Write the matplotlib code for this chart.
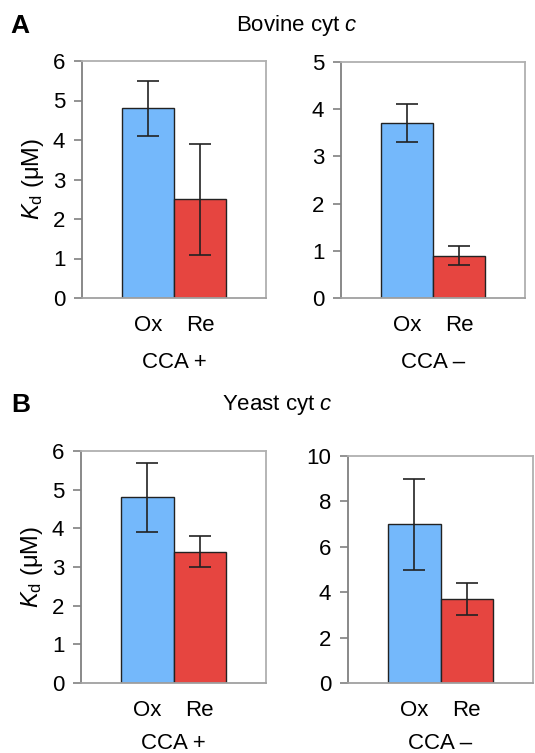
import matplotlib
matplotlib.use('Agg')
import matplotlib.pyplot as plt

plt.rcParams['font.family'] = ['Liberation Sans', 'DejaVu Sans']
plt.rcParams['mathtext.fontset'] = 'custom'
plt.rcParams['mathtext.rm'] = 'Liberation Sans'
plt.rcParams['mathtext.it'] = 'Liberation Sans:italic'

# data
conditions = ['Ox', 'Re']
bovine_cca_plus = [4.8, 2.5]
bovine_cca_plus_err = [0.7, 1.4]
bovine_cca_minus = [3.7, 0.9]
bovine_cca_minus_err = [0.4, 0.2]
yeast_cca_plus = [4.8, 3.4]
yeast_cca_plus_err = [0.9, 0.4]
yeast_cca_minus = [7.0, 3.7]
yeast_cca_minus_err = [2.0, 0.7]

colors = ['#74b8fb', '#e64540']
W, H = 535, 753
fig = plt.figure(figsize=(W / 100, H / 100), dpi=100)


def px_axes(x0, y0, x1, y1):
    # pixel box (top-left origin) -> figure fraction
    return fig.add_axes([x0 / W, 1 - y1 / H, (x1 - x0) / W, (y1 - y0) / H])


def bar_panel(ax, vals, errs, ymax, step, group, lpad=12):
    x = range(len(conditions))
    ax.bar(x, vals, width=1.0, color=colors, edgecolor='#222222', linewidth=1.0,
           yerr=errs, capsize=8, error_kw=dict(ecolor='#222222', elinewidth=1.2, capthick=1.2))
    ax.set_xlim(-1.27, 2.27)
    ax.set_ylim(0, ymax)
    ax.set_yticks(range(0, ymax + 1, step))
    ax.set_xticks(list(x))
    ax.set_xticklabels(conditions, fontsize=16)
    ax.set_xlabel(group, fontsize=16, labelpad=lpad)
    ax.tick_params(axis='x', length=0, pad=12)
    ax.tick_params(axis='y', labelsize=16, length=6, width=1.2, color='#808080', pad=6)
    ax.spines['left'].set_color('#808080')
    ax.spines['bottom'].set_color('#a0a0a0')
    ax.spines['top'].set_color('#b0b0b0')
    ax.spines['right'].set_color('#b0b0b0')
    for s in ax.spines.values():
        s.set_linewidth(1.3)


ax1 = px_axes(82, 61, 266, 298)
bar_panel(ax1, bovine_cca_plus, bovine_cca_plus_err, 6, 1, 'CCA +')
ax1.set_ylabel(r'$K_{\rm d}$ (μM)', fontsize=17, labelpad=5)

ax2 = px_axes(341, 62, 525, 298)
bar_panel(ax2, bovine_cca_minus, bovine_cca_minus_err, 5, 1, 'CCA –')

ax3 = px_axes(81, 451, 266, 683)
bar_panel(ax3, yeast_cca_plus, yeast_cca_plus_err, 6, 1, 'CCA +', lpad=9)
ax3.set_ylabel(r'$K_{\rm d}$ (μM)', fontsize=17, labelpad=5)

ax4 = px_axes(348, 456, 533, 683)
bar_panel(ax4, yeast_cca_minus, yeast_cca_minus_err, 10, 2, 'CCA –', lpad=9)

fig.text(297 / W, 1 - 25 / H, 'Bovine cyt $c$', ha='center', va='center', fontsize=16)
fig.text(277 / W, 1 - 405 / H, 'Yeast cyt $c$', ha='center', va='center', fontsize=16)
fig.text(10 / W, 1 - 26 / H, 'A', ha='left', va='center', fontsize=19, fontweight='bold')
fig.text(11 / W, 1 - 405 / H, 'B', ha='left', va='center', fontsize=19, fontweight='bold')

fig.savefig('out.png', dpi=100)
